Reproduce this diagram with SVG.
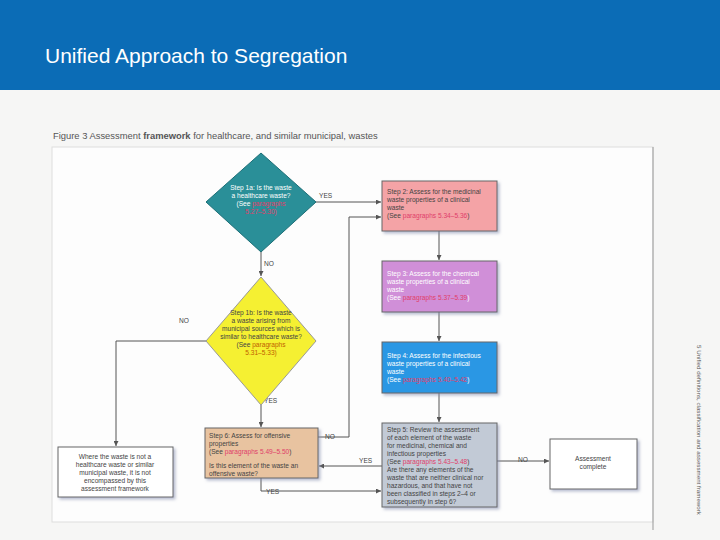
<svg xmlns="http://www.w3.org/2000/svg" width="720" height="540" viewBox="0 0 720 540">
<defs>
<marker id="ah" viewBox="0 0 6 6" refX="6" refY="3" markerWidth="5" markerHeight="5" orient="auto"><path d="M0,0L6,3L0,6z" fill="#555"/></marker>
<filter id="sh" x="-10%" y="-10%" width="130%" height="130%"><feDropShadow dx="2" dy="2" stdDeviation="1.5" flood-color="#8890b0" flood-opacity="0.6"/></filter>
</defs>
<style>
text{font-family:"Liberation Sans",Arial,sans-serif}
.t{font-size:6.6px;fill:#444}
.w{font-size:6.6px;fill:#fff}
.r{fill:#e0406a}
.lb{font-size:6.6px;fill:#444}
.c line,.c polyline{stroke:#555;stroke-width:1;fill:none}
.box{stroke:#666;stroke-width:1;filter:url(#sh)}
</style>
<rect width="720" height="540" fill="#f4f4f4"/>
<rect x="0" y="0" width="720" height="90" fill="#0b6cb6"/>
<text x="45" y="63" font-size="21" fill="#fff">Unified Approach to Segregation</text>
<rect x="0" y="90" width="720" height="450" fill="#f6f6f5"/>
<text x="53" y="139" font-size="9.4" fill="#555">Figure 3  Assessment <tspan font-weight="bold">framework</tspan> for healthcare, and similar municipal, wastes</text>
<rect x="52" y="147" width="601" height="375" fill="#fdfdfd" stroke="#ddd"/>
<line x1="653" y1="147" x2="653" y2="530" stroke="#999"/>
<text transform="translate(697,345) rotate(90)" font-size="6.2" fill="#555" font-family="Liberation Serif,serif">5 Unified definitions, classification and assessment framework</text>

<g class="c">
<line x1="316" y1="202" x2="381" y2="202" marker-end="url(#ah)"/>
<line x1="261" y1="252" x2="261" y2="276" marker-end="url(#ah)"/>
<polyline points="206,341 116,341 116,446" marker-end="url(#ah)"/>
<line x1="261" y1="405" x2="261" y2="427" marker-end="url(#ah)"/>
<polyline points="318,437 349,437 349,217 381,217" marker-end="url(#ah)"/>
<line x1="439" y1="231" x2="439" y2="260" marker-end="url(#ah)"/>
<line x1="439" y1="312" x2="439" y2="341" marker-end="url(#ah)"/>
<line x1="439" y1="393" x2="439" y2="422" marker-end="url(#ah)"/>
<line x1="382" y1="466" x2="319" y2="466" marker-end="url(#ah)"/>
<polyline points="261,478 261,491 381,491" marker-end="url(#ah)"/>
<line x1="497" y1="461" x2="549" y2="461" marker-end="url(#ah)"/>
<text class="lb" x="319" y="198">YES</text>
<text class="lb" x="264" y="266">NO</text>
<text class="lb" x="179" y="323">NO</text>
<text class="lb" x="264" y="403">YES</text>
<text class="lb" x="325" y="439">NO</text>
<text class="lb" x="359" y="463">YES</text>
<text class="lb" x="266" y="494">YES</text>
<text class="lb" x="518" y="462">NO</text>
</g>

<g id="step1a">
<polygon points="261,153 316,202 261,252 206,202" fill="#2a8f98" stroke="#1d6f77"/>
<text class="w" text-anchor="middle"><tspan x="261" y="190">Step 1a: Is the waste</tspan><tspan x="261" y="198">a healthcare waste?</tspan><tspan x="261" y="206">(See <tspan class="r">paragraphs</tspan></tspan><tspan x="261" y="214" class="r">5.27–5.30)</tspan></text>
</g>
<g id="step1b">
<polygon points="261,277 316,341 261,405 206,341" fill="#f5f032" stroke="#999"/>
<text class="t" text-anchor="middle"><tspan x="261" y="315">Step 1b: Is the waste</tspan><tspan x="261" y="323">a waste arising from</tspan><tspan x="261" y="331">municipal sources which is</tspan><tspan x="261" y="339">similar to healthcare waste?</tspan><tspan x="261" y="347">(See <tspan fill="#c06000">paragraphs</tspan></tspan><tspan x="261" y="355" fill="#c06000">5.31–5.33)</tspan></text>
</g>
<g id="step2">
<rect class="box" x="382" y="181" width="115" height="50" fill="#f4a3a6"/>
<text class="t"><tspan x="387" y="194">Step 2: Assess for the medicinal</tspan><tspan x="387" y="202">waste properties of a clinical</tspan><tspan x="387" y="210">waste</tspan><tspan x="387" y="218">(See <tspan class="r">paragraphs 5.34–5.36</tspan>)</tspan></text>
</g>
<g id="step3">
<rect class="box" x="382" y="261" width="115" height="51" fill="#d08fd8"/>
<text class="w"><tspan x="387" y="276">Step 3: Assess for the chemical</tspan><tspan x="387" y="284">waste properties of a clinical</tspan><tspan x="387" y="292">waste</tspan><tspan x="387" y="300">(See <tspan class="r">paragraphs 5.37–5.39</tspan>)</tspan></text>
</g>
<g id="step4">
<rect class="box" x="382" y="342" width="115" height="51" fill="#2a97e4"/>
<text class="w"><tspan x="387" y="358">Step 4: Assess for the infectious</tspan><tspan x="387" y="366">waste properties of a clinical</tspan><tspan x="387" y="374">waste</tspan><tspan x="387" y="382">(See <tspan class="r">paragraphs 5.40–5.42</tspan>)</tspan></text>
</g>
<g id="step5">
<rect class="box" x="382" y="423" width="115" height="84" fill="#c2cad6"/>
<text class="t"><tspan x="387" y="432">Step 5: Review the assessment</tspan><tspan x="387" y="440">of each element of the waste</tspan><tspan x="387" y="448">for medicinal, chemical and</tspan><tspan x="387" y="456">infectious properties</tspan><tspan x="387" y="464">(See <tspan class="r">paragraphs 5.43–5.48</tspan>)</tspan><tspan x="387" y="472">Are there any elements of the</tspan><tspan x="387" y="480">waste that are neither clinical nor</tspan><tspan x="387" y="488">hazardous, and that have not</tspan><tspan x="387" y="496">been classified in steps 2–4 or</tspan><tspan x="387" y="504">subsequently in step 6?</tspan></text>
</g>
<g id="step6">
<rect class="box" x="205" y="428" width="113" height="50" fill="#e8c3a0"/>
<text class="t"><tspan x="209" y="438">Step 6: Assess for offensive</tspan><tspan x="209" y="446">properties</tspan><tspan x="209" y="454">(See <tspan class="r">paragraphs 5.49–5.50</tspan>)</tspan><tspan x="209" y="468">Is this element of the waste an</tspan><tspan x="209" y="476">offensive waste?</tspan></text>
</g>
<g id="notcovered">
<rect class="box" x="58" y="447" width="115" height="50" fill="#fff"/>
<text class="t" text-anchor="middle"><tspan x="115" y="459">Where the waste is not a</tspan><tspan x="115" y="467">healthcare waste or similar</tspan><tspan x="115" y="475">municipal waste, it is not</tspan><tspan x="115" y="483">encompassed by this</tspan><tspan x="115" y="491">assessment framework</tspan></text>
</g>
<g id="complete">
<rect class="box" x="550" y="439" width="87" height="50" fill="#fff"/>
<text class="t" text-anchor="middle"><tspan x="593" y="461">Assessment</tspan><tspan x="593" y="469">complete</tspan></text>
</g>
</svg>
